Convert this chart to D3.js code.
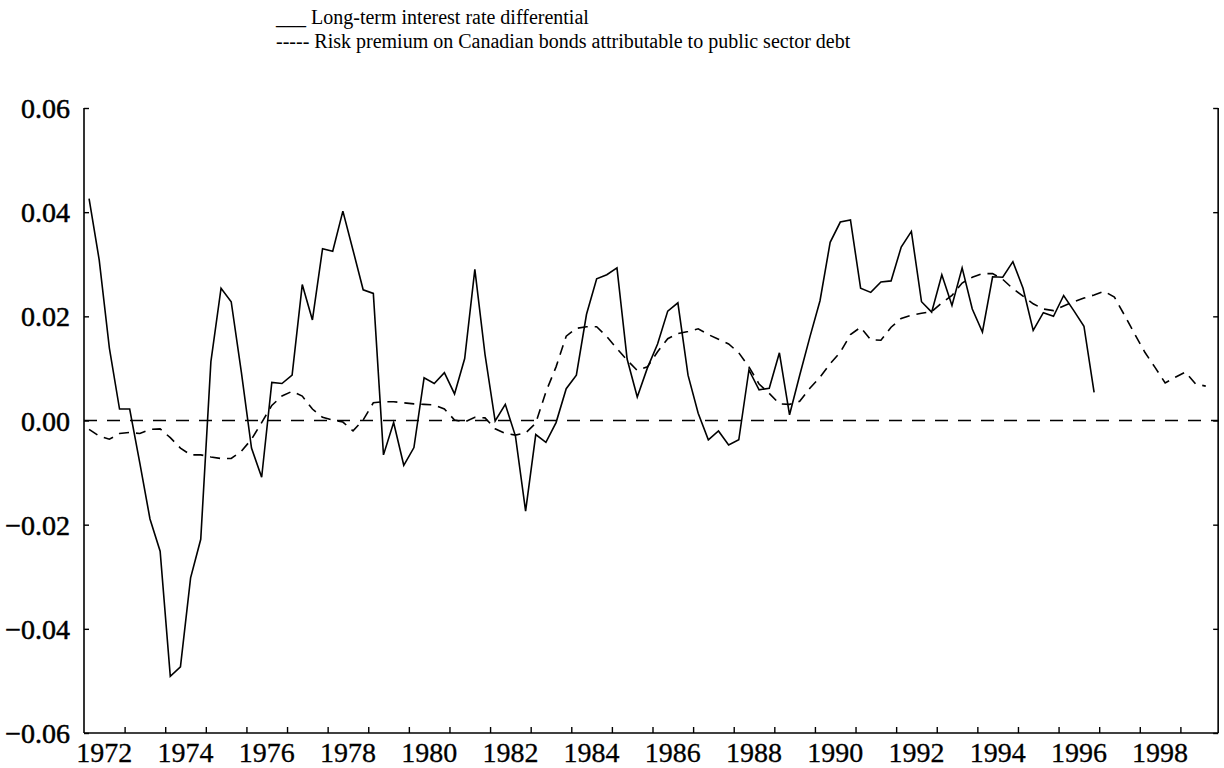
<!DOCTYPE html>
<html>
<head>
<meta charset="utf-8">
<script src="https://cdn.jsdelivr.net/npm/d3@7"></script>
<style>
  body { margin: 0; background: #fff; }
  svg { display: block; }
  text { font-family: "Liberation Serif", "Times New Roman", serif; fill: #000; }
</style>
</head>
<body>
<div id="chart"></div>
<script>
// quarterly series, first point 1972Q1
const startYear = 1972;

// long-term interest rate differential, 1972Q1 - 1996Q4
const spread = [
  0.0426, 0.0308, 0.0139, 0.0022, 0.0022, -0.0082, -0.0189, -0.0251,
  -0.0491, -0.0473, -0.0302, -0.0228, 0.0113, 0.0254, 0.0228, 0.0093,
  -0.0053, -0.0109, 0.0073, 0.0071, 0.0087, 0.0261, 0.0193, 0.0330,
  0.0325, 0.0402, 0.0327, 0.0251, 0.0244, -0.0066, -0.0004, -0.0086,
  -0.0052, 0.0082, 0.0071, 0.0092, 0.0051, 0.0119, 0.0290, 0.0127,
  -0.0001, 0.0031, -0.0030, -0.0174, -0.0027, -0.0042, -0.0004, 0.0061,
  0.0087, 0.0204, 0.0272, 0.0280, 0.0293, 0.0118, 0.0045, 0.0101,
  0.0147, 0.0210, 0.0226, 0.0087, 0.0014, -0.0037, -0.0020, -0.0047,
  -0.0037, 0.0097, 0.0059, 0.0062, 0.0130, 0.0011, 0.0087, 0.0160,
  0.0230, 0.0342, 0.0381, 0.0385, 0.0254, 0.0246, 0.0266, 0.0268,
  0.0333, 0.0363, 0.0228, 0.0208, 0.0280, 0.0221, 0.0293, 0.0214,
  0.0170, 0.0276, 0.0275, 0.0305, 0.0254, 0.0173, 0.0207, 0.0200,
  0.0240, 0.0211, 0.0181, 0.0054
];

// risk premium attributable to public sector debt, 1972Q1 - 1999Q3
const premium = [
  -0.0017, -0.0030, -0.0036, -0.0025, -0.0023, -0.0025, -0.0017, -0.0016,
  -0.0033, -0.0053, -0.0066, -0.0066, -0.0070, -0.0073, -0.0073, -0.0059,
  -0.0036, -0.0004, 0.0029, 0.0047, 0.0056, 0.0047, 0.0022, 0.0006,
  0.0001, -0.0003, -0.0020, 0.0001, 0.0034, 0.0036, 0.0036, 0.0034,
  0.0032, 0.0031, 0.0030, 0.0022, 0.0001, -0.0003, 0.0006, 0.0005,
  -0.0016, -0.0025, -0.0028, -0.0024, -0.0005, 0.0055, 0.0103, 0.0162,
  0.0177, 0.0180, 0.0180, 0.0161, 0.0138, 0.0116, 0.0096, 0.0103,
  0.0132, 0.0157, 0.0167, 0.0171, 0.0176, 0.0165, 0.0156, 0.0147,
  0.0130, 0.0103, 0.0070, 0.0052, 0.0032, 0.0031, 0.0037, 0.0062,
  0.0083, 0.0109, 0.0131, 0.0165, 0.0179, 0.0155, 0.0154, 0.0179,
  0.0196, 0.0202, 0.0206, 0.0209, 0.0226, 0.0240, 0.0264, 0.0275,
  0.0282, 0.0282, 0.0271, 0.0253, 0.0239, 0.0224, 0.0214, 0.0211,
  0.0220, 0.0228, 0.0235, 0.0241, 0.0248, 0.0237, 0.0202, 0.0166,
  0.0131, 0.0102, 0.0072, 0.0083, 0.0093, 0.0070, 0.0066
];

const yTicks = [-0.06, -0.04, -0.02, 0, 0.02, 0.04, 0.06];
const yearTicks = d3.range(1973, 2000);
const yearLabels = d3.range(1972, 2000, 2);

const legendItems = [
  '___ Long-term interest rate differential',
  '----- Risk premium on Canadian bonds attributable to public sector debt'
];

const W = 1224, H = 768;
const x = d3.scaleLinear().domain([1972, 2000]).range([84, 1221]);
const y = d3.scaleLinear().domain([-0.06, 0.06]).range([733, 108]);

const svg = d3.select('#chart').append('svg')
  .attr('width', W).attr('height', H);

// quarter midpoints
const qx = i => startYear + (i + 0.5) / 4;

// legend
svg.append('g').selectAll('text')
  .data(legendItems)
  .join('text')
  .attr('x', 276)
  .attr('y', (d, i) => 24 + i * 24)
  .attr('font-size', 20)
  .attr('xml:space', 'preserve')
  .text(d => d);

// axes frame
const xL = x(1972), xR = x(1999.93), yB = y(-0.06), yT = y(0.06);
const frame = svg.append('g').attr('stroke', '#000').attr('stroke-width', 1.6);
frame.append('line').attr('x1', xL).attr('x2', xL).attr('y1', yT).attr('y2', yB);
frame.append('line').attr('x1', xR).attr('x2', xR).attr('y1', yT).attr('y2', yB);
frame.append('line').attr('x1', xL).attr('x2', xR).attr('y1', yB).attr('y2', yB);

// left and right axes, ticks pointing inward
const yAxisL = svg.append('g')
  .attr('transform', `translate(${xL},0)`)
  .call(d3.axisRight(y).tickValues(yTicks).tickSize(5).tickFormat(''));
yAxisL.select('.domain').remove();
yAxisL.selectAll('line').attr('stroke', '#000').attr('stroke-width', 1.4);

const yAxisR = svg.append('g')
  .attr('transform', `translate(${xR},0)`)
  .call(d3.axisLeft(y).tickValues(yTicks).tickSize(5).tickFormat(''));
yAxisR.select('.domain').remove();
yAxisR.selectAll('line').attr('stroke', '#000').attr('stroke-width', 1.4);

// y labels (scanned type looks heavy, so a thin outline)
svg.append('g').selectAll('text')
  .data(yTicks)
  .join('text')
  .attr('x', 70)
  .attr('y', d => y(d) + 10)
  .attr('text-anchor', 'end')
  .attr('font-size', 28)
  .attr('stroke', '#000')
  .attr('stroke-width', 0.5)
  .text(d => d3.format('.2f')(d));

// bottom axis ticks
const xAxis = svg.append('g')
  .attr('transform', `translate(0,${yB})`)
  .call(d3.axisTop(x).tickValues(yearTicks).tickSize(6).tickFormat(''));
xAxis.select('.domain').remove();
xAxis.selectAll('line').attr('stroke', '#000').attr('stroke-width', 1.4);

// year labels centred in the year
svg.append('g').selectAll('text')
  .data(yearLabels)
  .join('text')
  .attr('x', d => x(d + 0.5))
  .attr('y', 762)
  .attr('text-anchor', 'middle')
  .attr('font-size', 28)
  .attr('stroke', '#000')
  .attr('stroke-width', 0.3)
  .text(d => d);

// zero line
svg.append('line')
  .attr('x1', xL).attr('x2', xR)
  .attr('y1', y(0)).attr('y2', y(0))
  .attr('stroke', '#000').attr('stroke-width', 1.6)
  .attr('stroke-dasharray', '13,10');

const line = d3.line().x((d, i) => x(qx(i))).y(d => y(d));

svg.append('path')
  .datum(premium)
  .attr('d', line)
  .attr('fill', 'none')
  .attr('stroke', '#000')
  .attr('stroke-width', 1.6)
  .attr('stroke-dasharray', '10,7');

svg.append('path')
  .datum(spread)
  .attr('d', line)
  .attr('fill', 'none')
  .attr('stroke', '#000')
  .attr('stroke-width', 1.6)
  .attr('stroke-linejoin', 'miter');
</script>
</body>
</html>
